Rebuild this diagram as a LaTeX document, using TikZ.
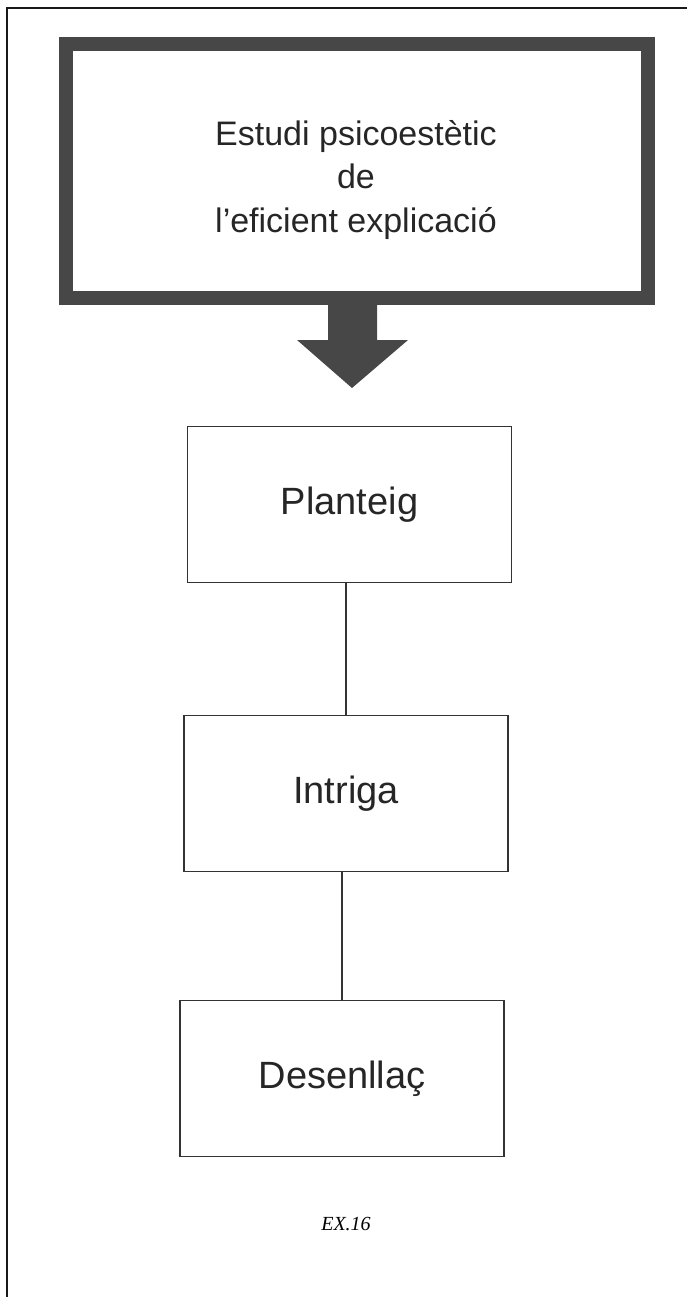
\documentclass[tikz,border=0pt]{standalone}
\usepackage{fontspec}
\setmainfont{Liberation Sans}
\newfontfamily\serifit{Liberation Serif}
\begin{document}
\begin{tikzpicture}[x=1pt,y=-1pt,
  frameline/.style={line width=2pt,draw=black!90},
  bigbox/.style={draw=black!72,line width=14pt,minimum width=582pt,minimum height=254pt,inner sep=0pt},
  stagebox/.style={draw=black!80,line width=1.6pt,minimum width=324pt,minimum height=156pt,inner sep=0pt,
     font=\fontsize{38}{44}\selectfont,text=black!85},
  link/.style={draw=black!80,line width=1.6pt},
  bigarrow/.style={fill=black!72}]
\useasboundingbox (0,0) rectangle (687,1297);
% frame (top and left edges)
\coordinate (fl) at (7,1297);
\coordinate (ftl) at (7,8);
\coordinate (ftr) at (687,8);
\draw[frameline] (fl) -- (ftl) -- (ftr);
% title box
\node[bigbox] (top) at (357,171) {};
\node[align=center,font=\fontsize{34}{43.5}\selectfont,text=black!85] (title) at (356,180)
  {Estudi psicoestètic\\de\\l’eficient explicació};
% big arrow
\coordinate (atip) at (352,388);
\fill[bigarrow] (328,298) -- (328,340) -- (297,340) -- (atip) -- (408,340) -- (377,340) -- (377,298) -- cycle;
% stages
\node[stagebox] (p) at (349.5,504.5) {Planteig};
\node[stagebox] (i) at (346,793.5) {Intriga};
\node[stagebox] (d) at (342,1078.5) {Desenllaç};
\draw[link] (i.north) -- (i.north |- p.south);
\draw[link] (d.north) -- (d.north |- i.south);
% label
\node[font=\serifit\itshape\fontsize{20}{24}\selectfont] (ex) at (346,1224) {EX.16};
\end{tikzpicture}
\end{document}
